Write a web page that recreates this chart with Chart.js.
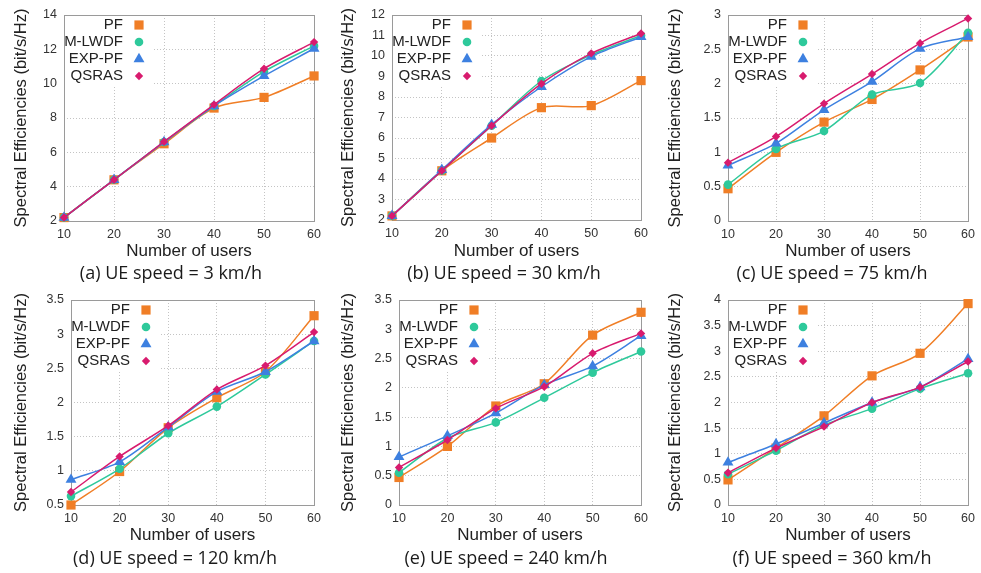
<!DOCTYPE html>
<html>
<head>
<meta charset="utf-8">
<script src="https://cdn.jsdelivr.net/npm/chart.js@4.4.0/dist/chart.umd.min.js"></script>
<style>
    body { margin: 0; background: #fff; width: 981px; height: 573px; overflow: hidden; position: relative; }
    .panel { position: absolute; }
    .panel canvas { position: absolute; left: 0; top: 0; }
    .sub { position: absolute; font-family: 'Open Sans', sans-serif; font-size: 18px; color: #1a1a1a; white-space: nowrap; transform: translate(-50%, -50%); }
</style>
</head>
<body>
<script>
// dati
var users = [10, 20, 30, 40, 50, 60];
var seriesNames = ['PF', 'M-LWDF', 'EXP-PF', 'QSRAS'];
var subtitles = ['(a) UE speed = 3 km/h', '(b) UE speed = 30 km/h', '(c) UE speed = 75 km/h',
                 '(d) UE speed = 120 km/h', '(e) UE speed = 240 km/h', '(f) UE speed = 360 km/h'];

var pf3     = [2.2, 4.4, 6.5, 8.58, 9.2, 10.45];
var mlwdf3  = [2.2, 4.4, 6.6, 8.7, 10.7, 12.2];
var exppf3  = [2.2, 4.4, 6.6, 8.7, 10.45, 12.05];
var qsras3  = [2.2, 4.4, 6.62, 8.78, 10.87, 12.42];

var pf30    = [2.2, 4.4, 6.0, 7.48, 7.58, 8.8];
var mlwdf30 = [2.2, 4.4, 6.6, 8.78, 10.05, 11.0];
var exppf30 = [2.2, 4.45, 6.65, 8.5, 9.97, 10.93];
var qsras30 = [2.2, 4.4, 6.6, 8.65, 10.13, 11.1];

var pf75    = [0.47, 1.0, 1.44, 1.77, 2.2, 2.68];
var mlwdf75 = [0.53, 1.05, 1.31, 1.84, 2.01, 2.74];
var exppf75 = [0.81, 1.13, 1.62, 2.03, 2.51, 2.68];
var qsras75 = [0.85, 1.23, 1.71, 2.14, 2.59, 2.95];

var pf120    = [0.5, 0.99, 1.63, 2.07, 2.45, 3.27];
var mlwdf120 = [0.63, 1.03, 1.55, 1.94, 2.41, 2.9];
var exppf120 = [0.87, 1.13, 1.64, 2.16, 2.45, 2.9];
var qsras120 = [0.69, 1.21, 1.66, 2.19, 2.54, 3.03];

var pf240    = [0.47, 1.0, 1.69, 2.07, 2.9, 3.29];
var mlwdf240 = [0.55, 1.14, 1.41, 1.83, 2.26, 2.62];
var exppf240 = [0.82, 1.18, 1.57, 2.05, 2.37, 2.89];
var qsras240 = [0.64, 1.11, 1.65, 2.02, 2.59, 2.93];

var pf360    = [0.49, 1.11, 1.74, 2.52, 2.96, 3.93];
var mlwdf360 = [0.6, 1.06, 1.56, 1.88, 2.27, 2.57];
var exppf360 = [0.83, 1.19, 1.6, 2.0, 2.3, 2.85];
var qsras360 = [0.63, 1.11, 1.53, 2.0, 2.3, 2.8];

var yMin  = [2, 2, 0, 0.5, 0, 0];
var yMax  = [14, 12, 3, 3.5, 3.5, 4];
var yStep = [2, 1, 0.5, 0.5, 0.5, 0.5];

var allData = [
    [pf3, mlwdf3, exppf3, qsras3],
    [pf30, mlwdf30, exppf30, qsras30],
    [pf75, mlwdf75, exppf75, qsras75],
    [pf120, mlwdf120, exppf120, qsras120],
    [pf240, mlwdf240, exppf240, qsras240],
    [pf360, mlwdf360, exppf360, qsras360]
];

// stile delle serie
var colori = ['#f07e26', '#2ec99b', '#3d80e0', '#d81b6e'];
var simboli = ['rect', 'circle', 'triangle', 'rectRot'];
var raggi = [6.5, 4.3, 6.3, 4.2];

// posizione dei pannelli nella pagina
var panels = [
    {left: 0,   top: 0,   w: 327, h: 286, plotL: 64, plotR: 316, plotB: 221, titleY: 251, subX: 171},
    {left: 327, top: 0,   w: 327, h: 286, plotL: 65, plotR: 318, plotB: 220, titleY: 251, subX: 177},
    {left: 654, top: 0,   w: 327, h: 286, plotL: 74, plotR: 318, plotB: 221, titleY: 251, subX: 178},
    {left: 0,   top: 285, w: 327, h: 288, plotL: 71, plotR: 316, plotB: 220, titleY: 250, subX: 175},
    {left: 327, top: 285, w: 327, h: 288, plotL: 72, plotR: 317, plotB: 220, titleY: 250, subX: 179},
    {left: 654, top: 285, w: 327, h: 288, plotL: 74, plotR: 319, plotB: 220, titleY: 250, subX: 178}
];

// legenda dentro il grafico + cornice
var legendaInterna = {
    id: 'legendaInterna',
    beforeDatasetsDraw: function (chart) {
        var ctx = chart.ctx;
        var a = chart.chartArea;
        ctx.save();
        ctx.fillStyle = '#fff';
        ctx.fillRect(a.left + 1, a.top + 1, 88, 71);
        ctx.font = '15px "Liberation Sans", Arial, sans-serif';
        ctx.textAlign = 'right';
        ctx.textBaseline = 'middle';
        chart.data.datasets.forEach(function (ds, i) {
            var y = a.top + 10 + i * 17;
            ctx.fillStyle = '#222';
            ctx.fillText(ds.label, a.left + 59, y);
            ctx.fillStyle = ds.pointBackgroundColor;
            Chart.helpers.drawPoint(ctx, {pointStyle: ds.pointStyle, radius: ds.pointRadius, borderWidth: 0, rotation: 0}, a.left + 75, y);
        });
        ctx.strokeStyle = '#9a9a9a';
        ctx.lineWidth = 1;
        ctx.strokeRect(Math.round(a.left) + 0.5, Math.round(a.top) + 0.5, Math.round(a.right - a.left), Math.round(a.bottom - a.top));
        ctx.restore();
    }
};

function creaGrafico (i) {
    var p = panels[i];
    var div = document.createElement('div');
    div.className = 'panel';
    div.style.left = p.left + 'px';
    div.style.top = p.top + 'px';
    div.style.width = p.w + 'px';
    div.style.height = p.h + 'px';
    var canvas = document.createElement('canvas');
    canvas.width = p.w;
    canvas.height = p.h;
    div.appendChild(canvas);
    var sub = document.createElement('div');
    sub.className = 'sub';
    sub.style.left = p.subX + 'px';
    sub.style.top = '272px';
    sub.textContent = subtitles[i];
    div.appendChild(sub);
    document.body.appendChild(div);

    var datasets = seriesNames.map(function (nome, k) {
        return {
            label: nome,
            data: allData[i][k],
            borderColor: colori[k],
            backgroundColor: colori[k],
            pointBackgroundColor: colori[k],
            pointBorderColor: colori[k],
            pointBorderWidth: 0,
            pointStyle: simboli[k],
            pointRadius: raggi[k],
            borderWidth: 1.5,
            tension: 0.3,
            clip: false,
            order: 4 - k
        };
    });

    var tickFont = {family: '"Liberation Sans", Arial, sans-serif', size: 12.5};
    var titleFont = {family: '"Liberation Sans", Arial, sans-serif', size: 17, lineHeight: 1.2};

    new Chart(canvas, {
        type: 'line',
        data: {
            labels: users,
            datasets: datasets
        },
        options: {
            responsive: false,
            animation: false,
            layout: {padding: {top: 15, right: p.w - p.plotR, left: 0, bottom: 0}},
            plugins: {legend: {display: false}, tooltip: {enabled: false}},
            scales: {
                x: {
                    offset: false,
                    grid: {color: '#c4c4c4', drawTicks: false, offset: false},
                    border: {display: false, dash: [1, 2]},
                    ticks: {font: tickFont, color: '#333', padding: 6, maxRotation: 0, autoSkip: false},
                    title: {display: true, text: 'Number of users', font: titleFont, color: '#222',
                            padding: {top: 0, bottom: p.h - p.titleY - 10.2}},
                    afterFit: function (scale) { scale.height = p.h - p.plotB; }
                },
                y: {
                    min: yMin[i],
                    max: yMax[i],
                    grid: {color: '#c4c4c4', drawTicks: false},
                    border: {display: false, dash: [1, 2]},
                    ticks: {
                        stepSize: yStep[i],
                        font: tickFont,
                        color: '#333',
                        padding: 7,
                        callback: function (v) { return +v.toFixed(2); }
                    },
                    title: {display: true, text: 'Spectral Efficiencies (bit/s/Hz)',
                            font: {family: '"Liberation Sans", Arial, sans-serif', size: 16.5, lineHeight: 1.2},
                            color: '#222', padding: {top: 12, bottom: 0}},
                    afterFit: function (scale) { scale.width = p.plotL; }
                }
            }
        },
        plugins: [legendaInterna]
    });
}

for (var i = 0; i < panels.length; i++) {
    creaGrafico(i);
}
</script>
</body>
</html>
